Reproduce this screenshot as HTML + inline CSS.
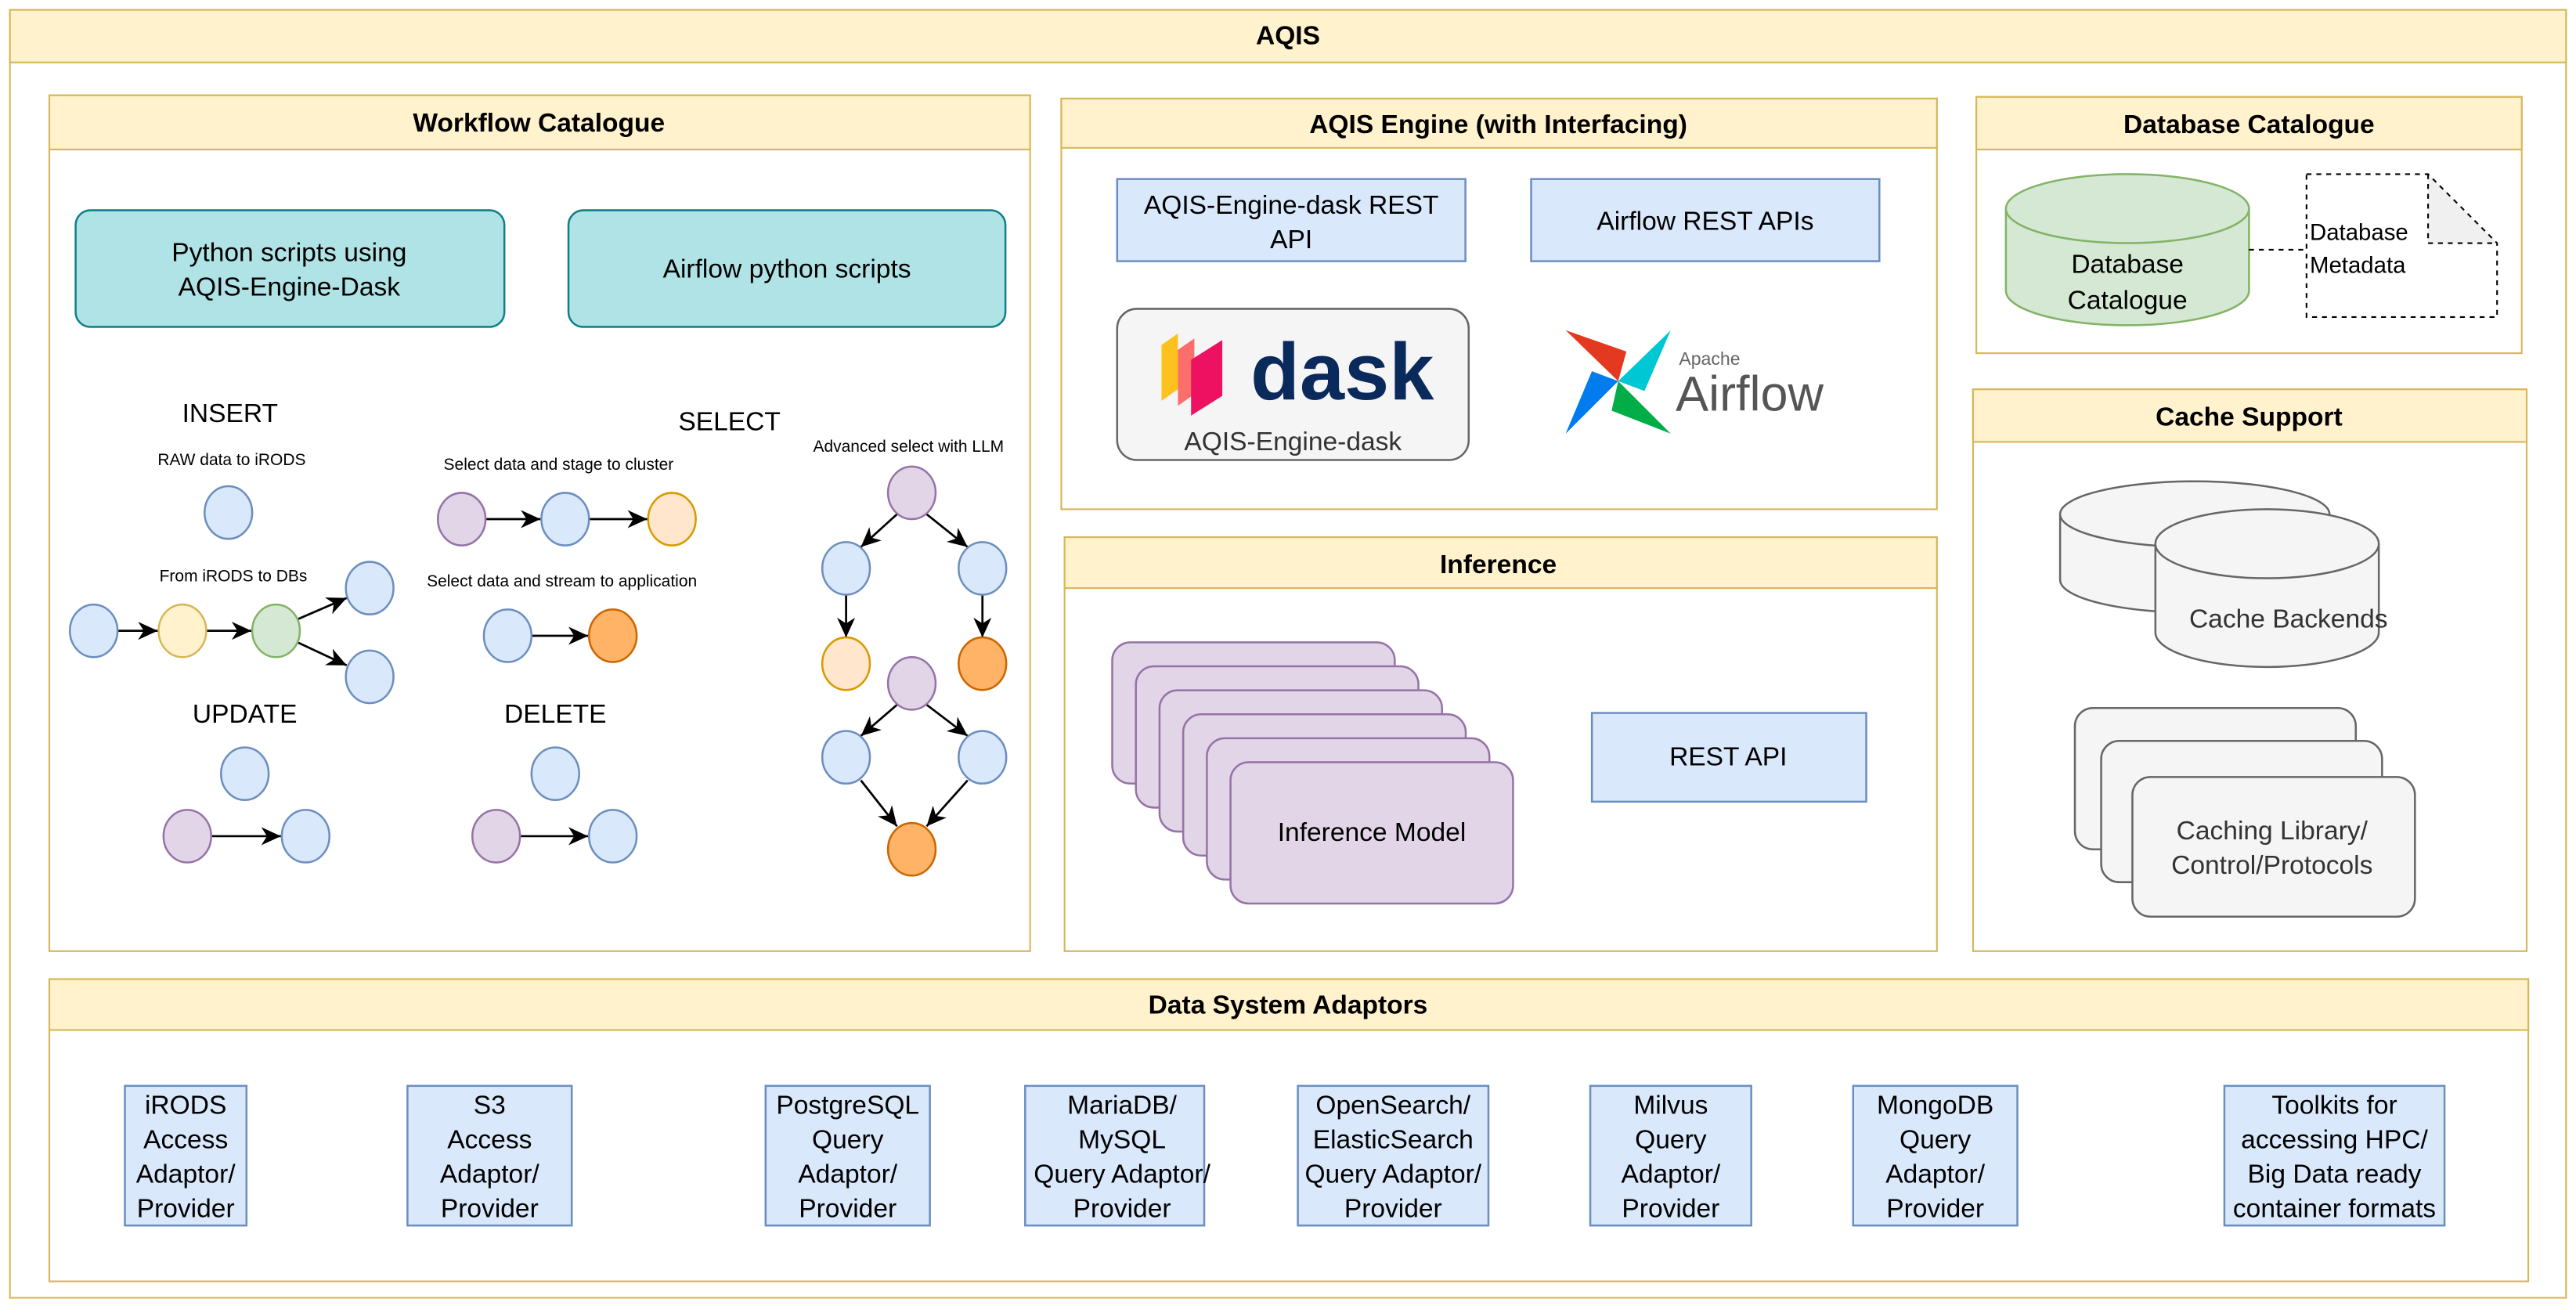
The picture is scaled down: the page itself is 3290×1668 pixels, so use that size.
<!DOCTYPE html>
<html><head><meta charset="utf-8"><style>
html,body{margin:0;padding:0;background:#fff}
svg{display:block}
text{font-family:"Liberation Sans",sans-serif;fill:#000}
</style></head><body>
<svg width="3290" height="1668" viewBox="0 0 1568 795" xmlns="http://www.w3.org/2000/svg">
<defs>
<marker id="a" markerUnits="userSpaceOnUse" markerWidth="14" markerHeight="12" refX="12" refY="5.5" orient="auto">
<path d="M0,0 L12,5.5 L0,11 L3.5,5.5 z" fill="#000"/></marker>
</defs>
<g stroke="#d6b656" stroke-width="1">
<rect x="6" y="6" width="1556" height="784" fill="#fff"/>
<rect x="6" y="6" width="1556" height="32" fill="#fff2cc"/>
<rect x="30" y="58" width="597" height="521" fill="#fff"/>
<rect x="30" y="58" width="597" height="33" fill="#fff2cc"/>
<rect x="646" y="60" width="533" height="250" fill="#fff"/>
<rect x="646" y="60" width="533" height="30" fill="#fff2cc"/>
<rect x="648" y="327" width="531" height="252" fill="#fff"/>
<rect x="648" y="327" width="531" height="31" fill="#fff2cc"/>
<rect x="1203" y="59" width="332" height="156" fill="#fff"/>
<rect x="1203" y="59" width="332" height="32" fill="#fff2cc"/>
<rect x="1201" y="237" width="337" height="342" fill="#fff"/>
<rect x="1201" y="237" width="337" height="32" fill="#fff2cc"/>
<rect x="30" y="596" width="1509" height="184" fill="#fff"/>
<rect x="30" y="596" width="1509" height="31" fill="#fff2cc"/>
</g>
<g font-weight="bold" font-size="16" text-anchor="middle">
<text x="784" y="27">AQIS</text>
<text x="328" y="80">Workflow Catalogue</text>
<text x="912" y="81">AQIS Engine (with Interfacing)</text>
<text x="912" y="349">Inference</text>
<text x="1369" y="81">Database Catalogue</text>
<text x="1369" y="259">Cache Support</text>
<text x="784" y="617">Data System Adaptors</text>
</g>
<g fill="#b0e3e6" stroke="#0e8088" stroke-width="1.2">
<rect x="46" y="128" width="261" height="71" rx="9"/>
<rect x="346" y="128" width="266" height="71" rx="9"/>
</g>
<g font-size="16" text-anchor="middle">
<text x="176" y="159">Python scripts using</text>
<text x="176" y="180">AQIS-Engine-Dask</text>
<text x="479" y="169">Airflow python scripts</text>
<text x="140" y="257">INSERT</text>
<text x="149" y="440">UPDATE</text>
<text x="338" y="440">DELETE</text>
<text x="444" y="262">SELECT</text>
</g>
<g font-size="10" text-anchor="middle">
<text x="141" y="283">RAW data to iRODS</text>
<text x="142" y="354">From iRODS to DBs</text>
<text x="340" y="286">Select data and stage to cluster</text>
<text x="342" y="357">Select data and stream to application</text>
<text x="553" y="275">Advanced select with LLM</text>
</g>
<g stroke="#000" stroke-width="1.3" marker-end="url(#a)">
<line x1="72" y1="384" x2="96" y2="384"/>
<line x1="126" y1="384" x2="153" y2="384"/>
<line x1="181" y1="377" x2="211" y2="364"/>
<line x1="181" y1="391" x2="211" y2="405"/>
<line x1="296" y1="316" x2="329" y2="316"/>
<line x1="359" y1="316" x2="394" y2="316"/>
<line x1="324" y1="387" x2="358" y2="387"/>
<line x1="546" y1="313" x2="524" y2="333"/>
<line x1="564" y1="313" x2="589" y2="333"/>
<line x1="515" y1="362" x2="515" y2="388"/>
<line x1="598" y1="362" x2="598" y2="388"/>
<line x1="546" y1="429" x2="524" y2="448"/>
<line x1="564" y1="429" x2="589" y2="448"/>
<line x1="524" y1="475" x2="546" y2="503"/>
<line x1="589" y1="475" x2="564" y2="503"/>
<line x1="129" y1="509" x2="171" y2="509"/>
<line x1="317" y1="509" x2="358" y2="509"/>
</g>
<g stroke-width="1.2">
<g fill="#dae8fc" stroke="#6c8ebf">
<ellipse cx="139" cy="312" rx="14.5" ry="16"/>
<ellipse cx="57" cy="384" rx="14.5" ry="16"/>
<ellipse cx="225" cy="358" rx="14.5" ry="16"/>
<ellipse cx="225" cy="412" rx="14.5" ry="16"/>
<ellipse cx="149" cy="471" rx="14.5" ry="16"/>
<ellipse cx="186" cy="509" rx="14.5" ry="16"/>
<ellipse cx="338" cy="471" rx="14.5" ry="16"/>
<ellipse cx="373" cy="509" rx="14.5" ry="16"/>
<ellipse cx="344" cy="316" rx="14.5" ry="16"/>
<ellipse cx="309" cy="387" rx="14.5" ry="16"/>
<ellipse cx="515" cy="346" rx="14.5" ry="16"/>
<ellipse cx="598" cy="346" rx="14.5" ry="16"/>
<ellipse cx="515" cy="461" rx="14.5" ry="16"/>
<ellipse cx="598" cy="461" rx="14.5" ry="16"/>
</g>
<ellipse cx="111" cy="384" rx="14.5" ry="16" fill="#fff2cc" stroke="#d6b656"/>
<ellipse cx="168" cy="384" rx="14.5" ry="16" fill="#d5e8d4" stroke="#82b366"/>
<g fill="#e1d5e7" stroke="#9673a6">
<ellipse cx="114" cy="509" rx="14.5" ry="16"/>
<ellipse cx="302" cy="509" rx="14.5" ry="16"/>
<ellipse cx="281" cy="316" rx="14.5" ry="16"/>
<ellipse cx="555" cy="300" rx="14.5" ry="16"/>
<ellipse cx="555" cy="416" rx="14.5" ry="16"/>
</g>
<g fill="#ffe6cc" stroke="#d79b00">
<ellipse cx="409" cy="316" rx="14.5" ry="16"/>
<ellipse cx="515" cy="404" rx="14.5" ry="16"/>
</g>
<g fill="#ffb366" stroke="#cc6600">
<ellipse cx="373" cy="387" rx="14.5" ry="16"/>
<ellipse cx="598" cy="404" rx="14.5" ry="16"/>
<ellipse cx="555" cy="517" rx="14.5" ry="16"/>
</g>
</g>
<g fill="#dae8fc" stroke="#6c8ebf" stroke-width="1.2">
<rect x="680" y="109" width="212" height="50"/>
<rect x="932" y="109" width="212" height="50"/>
<rect x="969" y="434" width="167" height="54"/>
</g>
<g font-size="16" text-anchor="middle">
<text x="786" y="130">AQIS-Engine-dask REST</text>
<text x="786" y="151">API</text>
<text x="1038" y="140">Airflow REST APIs</text>
<text x="1052" y="466">REST API</text>
</g>
<rect x="680" y="188" width="214" height="92" rx="12" fill="#f5f5f5" stroke="#666" stroke-width="1.2"/>
<g>
<path d="M707,210 l10,-7 v34 l-10,7 z" fill="#ffc11e"/>
<path d="M717,213 l10,-7 v34 l-10,7 z" fill="#fc6e6b"/>
<path d="M725,219 l19,-12 v34 l-19,12 z" fill="#ef1161"/>
</g>
<text x="817" y="243" font-size="49" font-weight="bold" text-anchor="middle" style="fill:#0b2a5c">dask</text>
<text x="787" y="274" font-size="16" text-anchor="middle" style="fill:#333">AQIS-Engine-dask</text>
<g>
<path d="M985,232 L953,201 L990,214 z" fill="#e43921"/>
<path d="M985,232 L1017,201 L1001,238 z" fill="#00c7d4"/>
<path d="M985,232 L1017,264 L981,250 z" fill="#00ad46"/>
<path d="M985,232 L953,264 L969,226 z" fill="#017cee"/>
</g>
<text x="1022" y="222" font-size="11" style="fill:#666">Apache</text>
<text x="1020" y="250" font-size="30" style="fill:#555">Airflow</text>
<g fill="#e1d5e7" stroke="#9673a6" stroke-width="1.2">
<rect x="677" y="391" width="172" height="86" rx="11"/>
<rect x="691.4" y="405.6" width="172" height="86" rx="11"/>
<rect x="705.8" y="420.2" width="172" height="86" rx="11"/>
<rect x="720.2" y="434.8" width="172" height="86" rx="11"/>
<rect x="734.6" y="449.4" width="172" height="86" rx="11"/>
<rect x="749" y="464" width="172" height="86" rx="11"/>
</g>
<text x="835" y="512" font-size="16" text-anchor="middle">Inference Model</text>
<path d="M1221,127 v50 a74,21 0 0 0 148,0 v-50" fill="#d5e8d4" stroke="#82b366" stroke-width="1.2"/>
<ellipse cx="1295" cy="127" rx="74" ry="21" fill="#d5e8d4" stroke="#82b366" stroke-width="1.2"/>
<text x="1295" y="166" font-size="16" text-anchor="middle">Database</text>
<text x="1295" y="188" font-size="16" text-anchor="middle">Catalogue</text>
<line x1="1369" y1="152" x2="1404" y2="152" stroke="#000" stroke-dasharray="3,3"/>
<path d="M1478,106 L1520,148 L1478,148 z" fill="#f0f0f0"/>
<path d="M1404,106 H1478 L1520,148 V193 H1404 z M1478,106 V148 H1520" fill="none" stroke="#000" stroke-dasharray="3,3" stroke-width="1"/>
<text x="1406" y="146" font-size="14">Database</text>
<text x="1406" y="166" font-size="14">Metadata</text>
<g fill="#f5f5f5" stroke="#666" stroke-width="1.2">
<path d="M1254,313 v40 a82,20 0 0 0 164,0 v-40"/>
<ellipse cx="1336" cy="313" rx="82" ry="20"/>
<path d="M1312,331 v54 a68,21 0 0 0 136,0 v-54"/>
<ellipse cx="1380" cy="331" rx="68" ry="21"/>
<rect x="1263" y="431" width="171" height="86" rx="11"/>
<rect x="1279" y="451" width="171" height="86" rx="11"/>
<rect x="1298" y="473" width="172" height="85" rx="11"/>
</g>
<g font-size="16" text-anchor="middle">
<text x="1393" y="382" style="fill:#333">Cache Backends</text>
<text x="1383" y="511" style="fill:#333">Caching Library/</text>
<text x="1383" y="532" style="fill:#333">Control/Protocols</text>
</g>
<g fill="#dae8fc" stroke="#6c8ebf" stroke-width="1.2">
<rect x="76" y="661" width="74" height="85"/>
<rect x="248" y="661" width="100" height="85"/>
<rect x="466" y="661" width="100" height="85"/>
<rect x="624" y="661" width="109" height="85"/>
<rect x="790" y="661" width="116" height="85"/>
<rect x="968" y="661" width="98" height="85"/>
<rect x="1128" y="661" width="100" height="85"/>
<rect x="1354" y="661" width="134" height="85"/>
</g>
<g font-size="16" text-anchor="middle">
<text x="113" y="678">iRODS</text><text x="113" y="699">Access</text><text x="113" y="720">Adaptor/</text><text x="113" y="741">Provider</text>
<text x="298" y="678">S3</text><text x="298" y="699">Access</text><text x="298" y="720">Adaptor/</text><text x="298" y="741">Provider</text>
<text x="516" y="678">PostgreSQL</text><text x="516" y="699">Query</text><text x="516" y="720">Adaptor/</text><text x="516" y="741">Provider</text>
<text x="683" y="678">MariaDB/</text><text x="683" y="699">MySQL</text><text x="683" y="720">Query Adaptor/</text><text x="683" y="741">Provider</text>
<text x="848" y="678">OpenSearch/</text><text x="848" y="699">ElasticSearch</text><text x="848" y="720">Query Adaptor/</text><text x="848" y="741">Provider</text>
<text x="1017" y="678">Milvus</text><text x="1017" y="699">Query</text><text x="1017" y="720">Adaptor/</text><text x="1017" y="741">Provider</text>
<text x="1178" y="678">MongoDB</text><text x="1178" y="699">Query</text><text x="1178" y="720">Adaptor/</text><text x="1178" y="741">Provider</text>
<text x="1421" y="678">Toolkits for</text><text x="1421" y="699">accessing HPC/</text><text x="1421" y="720">Big Data ready</text><text x="1421" y="741">container formats</text>
</g>
</svg>
</body></html>
